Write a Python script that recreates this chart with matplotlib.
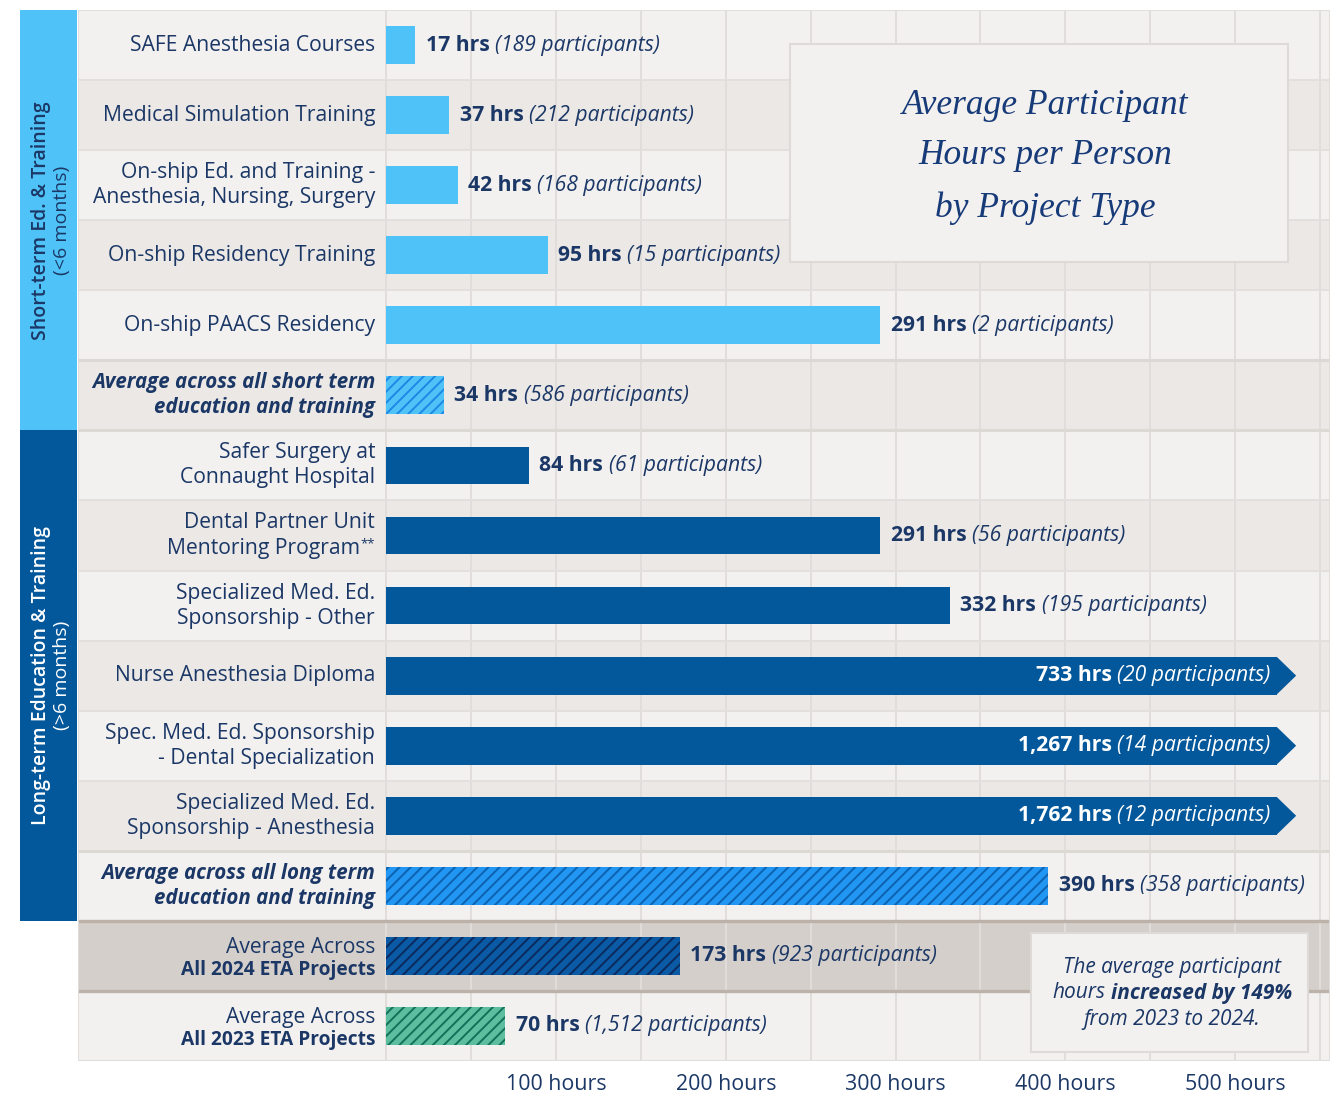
import matplotlib
matplotlib.use("Agg")
import matplotlib.pyplot as plt
from matplotlib.patches import Polygon, Rectangle
from matplotlib.offsetbox import TextArea, HPacker, AnnotationBbox

# ---------------- data ----------------
categories = [
    "SAFE Anesthesia Courses",
    "Medical Simulation Training",
    "On-ship Ed. and Training -\nAnesthesia, Nursing, Surgery",
    "On-ship Residency Training",
    "On-ship PAACS Residency",
    "Average across all short term\neducation and training",
    "Safer Surgery at\nConnaught Hospital",
    "Dental Partner Unit\nMentoring Program**",
    "Specialized Med. Ed.\nSponsorship - Other",
    "Nurse Anesthesia Diploma",
    "Spec. Med. Ed. Sponsorship\n- Dental Specialization",
    "Specialized Med. Ed.\nSponsorship - Anesthesia",
    "Average across all long term\neducation and training",
    "Average Across\nAll 2024 ETA Projects",
    "Average Across\nAll 2023 ETA Projects",
]
hours = [17, 37, 42, 95, 291, 34, 84, 291, 332, 733, 1267, 1762, 390, 173, 70]
participants = [189, 212, 168, 15, 2, 586, 61, 56, 195, 20, 14, 12, 358, 923, 1512]
kinds = ["short"] * 5 + ["short_avg"] + ["long"] * 6 + ["long_avg", "all2024", "all2023"]
x_ticks = [100, 200, 300, 400, 500]
x_tick_labels = ["100 hours", "200 hours", "300 hours", "400 hours", "500 hours"]
group_titles = ["Short-term Ed. & Training", "Long-term Education & Training"]
group_subtitles = ["(<6 months)", "(>6 months)"]
group_rows = [(0, 6), (6, 13)]
title_lines = ["Average Participant", "Hours per Person", "by Project Type"]
note_line1 = "The average participant"
note_line2 = ("hours", "increased by 149%")
note_line3 = "from 2023 to 2024."

# ---------------- style ----------------
W, H, DPI = 1342, 1093, 100
FONT = "Open Sans"
NAVY = "#1B3766"
LIGHT_BLUE = "#4FC3F7"
DARK_BLUE = "#03589C"
ROW_LIGHT = "#F2F1F0"
ROW_DARK = "#EBE8E6"
ROW_2024 = "#D4CFCA"
GRID = "#E0DDDA"
CAP = 525          # display cap for very long bars (hours)
ARROW = 11         # arrow tip length (hours)

styles = {
    "short":     dict(face=LIGHT_BLUE, hatch=None, hc=None),
    "short_avg": dict(face=LIGHT_BLUE, hatch="///", hc="#1E88E5"),
    "long":      dict(face=DARK_BLUE, hatch=None, hc=None),
    "long_avg":  dict(face="#2196F3", hatch="///", hc="#0D62B0"),
    "all2024":   dict(face="#0A5AA5", hatch="///", hc="#0A2A5E"),
    "all2023":   dict(face="#5DBE9F", hatch="///", hc="#0F7259"),
}

plt.rcParams["font.family"] = [FONT, "DejaVu Sans"]
plt.rcParams["hatch.linewidth"] = 1.4

fig = plt.figure(figsize=(W / DPI, H / DPI), dpi=DPI)
fig.patch.set_facecolor("white")

def fx(px):
    return px / W

def fy(py):
    return 1 - py / H

# geometry (pixels)
PL, PR, PT, PB = 78, 1330, 10, 1061
X0_PX = 386.3
PX_PER_H = 1.6975
n = len(categories)

ax = fig.add_axes([fx(PL), fy(PB), fx(PR - PL), (PB - PT) / H])
ax.set_xlim(-(X0_PX - PL) / PX_PER_H, (PR - X0_PX) / PX_PER_H)
ax.set_ylim(n, 0)
xmin, xmax = ax.get_xlim()
ax.set_facecolor("none")
for s in ax.spines.values():
    s.set_visible(False)

# row backgrounds
for i, k in enumerate(kinds):
    if k == "all2024":
        c = ROW_2024
    else:
        c = ROW_LIGHT if i % 2 == 0 else ROW_DARK
    ax.axhspan(i, i + 1, color=c, zorder=0, lw=0)

# vertical grid
ax.vlines(range(0, 551, 50), 0, n, color=GRID, lw=1.4, zorder=1)

# horizontal separators
for b in range(1, n):
    if b in (13, 14):
        ax.hlines(b, xmin, xmax, color="#BCB2AA", lw=2.4, zorder=1.5)
    elif b in (5, 6, 12):
        ax.hlines(b, xmin, xmax, color="#DCD8D4", lw=2.2, zorder=1.5)
    else:
        ax.hlines(b, xmin, xmax, color="#E2DFDC", lw=1.4, zorder=1.5)
# outer border
ax.hlines([0, n], xmin, xmax, color="#E0DDDA", lw=1.4, zorder=1.5)
ax.vlines([xmin, xmax], 0, n, color="#E0DDDA", lw=1.4, zorder=1.5)

# bars
BAR_H = 0.54
ys = [i + 0.5 for i in range(n)]
for i, (h, k) in enumerate(zip(hours, kinds)):
    st = styles[k]
    w = min(h, CAP)
    if st["hatch"]:
        ax.barh(ys[i], w, height=BAR_H, left=0, color=st["face"], edgecolor=st["hc"],
                hatch=st["hatch"], lw=0, zorder=3)
    else:
        ax.barh(ys[i], w, height=BAR_H, left=0, color=st["face"], lw=0, zorder=3)
    if h > CAP:
        tri = Polygon([(CAP - 0.5, ys[i] - BAR_H / 2), (CAP + ARROW, ys[i]),
                       (CAP - 0.5, ys[i] + BAR_H / 2)], closed=True,
                      facecolor=st["face"], lw=0, zorder=3)
        ax.add_patch(tri)

# value labels
FS = 15.2
for i, (h, p, k) in enumerate(zip(hours, participants, kinds)):
    inside = h > CAP
    col = "white" if inside else NAVY
    ta1 = TextArea(f"{h:,} hrs", textprops=dict(color=col, fontsize=FS, fontweight="bold", family=FONT))
    ta2 = TextArea(f"({p:,} participants)", textprops=dict(color=col, fontsize=FS, fontstyle="italic", family=FONT))
    box = HPacker(children=[ta1, ta2], align="baseline", pad=0, sep=4)
    if inside:
        ab = AnnotationBbox(box, (CAP, ys[i]), xybox=(-5, 0), boxcoords="offset points",
                            box_alignment=(1, 0.5), frameon=False, pad=0, zorder=5)
    else:
        ab = AnnotationBbox(box, (min(h, CAP), ys[i]), xybox=(7.5, 0), boxcoords="offset points",
                            box_alignment=(0, 0.5), frameon=False, pad=0, zorder=5)
    ax.add_artist(ab)

# category labels
LABEL_X = -6.6
LINE_GAP = 0.357
for i, (lab, k) in enumerate(zip(categories, kinds)):
    lines = lab.split("\n")
    nl = len(lines)
    yc = ys[i] + (0.04 if k in ("all2024", "all2023") else 0)
    gap = 0.33 if k in ("all2024", "all2023") else LINE_GAP
    for j, line in enumerate(lines):
        y = yc + (j - (nl - 1) / 2) * gap
        props = dict(color=NAVY, fontsize=FS, family=FONT)
        if k in ("short_avg", "long_avg"):
            props.update(fontweight="bold", fontstyle="italic", fontsize=14.8)
        if k in ("all2024", "all2023") and j == 1:
            props.update(fontweight="bold", fontsize=13.8)
        if line.endswith("**"):
            ta_a = TextArea(line[:-2], textprops=props)
            ta_b = TextArea("**", textprops=dict(color=NAVY, fontsize=9.5, family=FONT))
            box = HPacker(children=[ta_a, ta_b], align="top", pad=0, sep=0)
            ax.add_artist(AnnotationBbox(box, (LABEL_X, y), box_alignment=(1, 0.5),
                                         frameon=False, pad=0, zorder=5))
        else:
            ax.text(LABEL_X, y, line, ha="right", va="center", zorder=5, **props)

# x ticks
ax.set_yticks([])
ax.set_xticks(x_ticks)
ax.set_xticklabels(x_tick_labels)
ax.tick_params(axis="x", length=0, pad=9.5, labelsize=15.4, labelcolor=NAVY)

# sidebar
sb = fig.add_axes([fx(20), fy(PB), fx(57), (PB - PT) / H])
sb.set_xlim(0, 1)
sb.set_ylim(n, 0)
sb.axis("off")
side_colors = [LIGHT_BLUE, DARK_BLUE]
side_text = [NAVY, "white"]
for (a, b), t1, t2, c, tc in zip(group_rows, group_titles, group_subtitles, side_colors, side_text):
    sb.axhspan(a, b, color=c, lw=0)
    sb.text(0.36, (a + b) / 2, t1, rotation=90, ha="center", va="center",
            fontsize=14, fontweight="semibold", color=tc, family=FONT)
    sb.text(0.74, (a + b) / 2, t2, rotation=90, ha="center", va="center",
            fontsize=14, color=tc, family=FONT)

# title box
fig.patches.append(Rectangle((fx(790), fy(262)), fx(1288 - 790), (262 - 44) / H,
                             transform=fig.transFigure, facecolor=ROW_LIGHT,
                             edgecolor="#DDDAD7", lw=1.5, zorder=10))
for line, py in zip(title_lines, [105, 156, 208]):
    fig.text(fx(1045), fy(py), line, ha="center", va="center", fontsize=25.5,
             fontstyle="italic", family=["Liberation Serif", "DejaVu Serif"],
             color="#173A78", zorder=11)

# note box
fig.patches.append(Rectangle((fx(1031), fy(1052)), fx(1308 - 1031), (1052 - 933) / H,
                             transform=fig.transFigure, facecolor=ROW_LIGHT,
                             edgecolor="#DDDAD7", lw=1.5, zorder=10))
NFS = 15
fig.text(fx(1172), fy(968), note_line1, ha="center", va="center", fontsize=NFS,
         fontstyle="italic", color=NAVY, family=FONT, zorder=11)
ta1 = TextArea(note_line2[0], textprops=dict(color=NAVY, fontsize=NFS, fontstyle="italic", family=FONT))
ta2 = TextArea(note_line2[1], textprops=dict(color=NAVY, fontsize=NFS, fontstyle="italic",
                                             fontweight="bold", family=FONT))
box = HPacker(children=[ta1, ta2], align="baseline", pad=0, sep=4)
ab = AnnotationBbox(box, (fx(1172), fy(993)), xycoords="figure fraction", box_alignment=(0.5, 0.5),
                    frameon=False, pad=0)
ab.set_zorder(11)
fig.add_artist(ab)
fig.text(fx(1172), fy(1019), note_line3, ha="center", va="center", fontsize=NFS,
         fontstyle="italic", color=NAVY, family=FONT, zorder=11)

fig.savefig("out.png", dpi=DPI, facecolor="white")
